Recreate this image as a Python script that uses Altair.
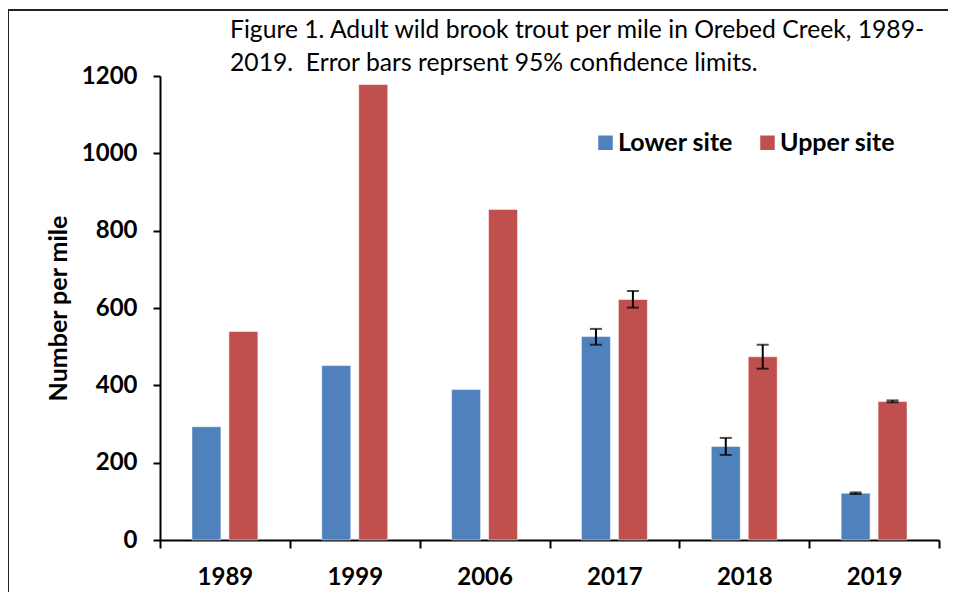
import altair as alt
import pandas as pd

years = ["1989", "1999", "2006", "2017", "2018", "2019"]
lower_vals = [293, 451, 389, 526, 242, 121]
upper_vals = [539, 1178, 855, 622, 474, 358]

err_years = ["2017", "2018", "2019"]
lower_lo = [505, 220, 119]
lower_hi = [546, 264, 123]
upper_lo = [601, 443, 356]
upper_hi = [644, 505, 361]

sites = ["Lower site", "Upper site"]
colors = ["#4F81BD", "#C0504D"]

title_lines = [
    "Figure 1. Adult wild brook trout per mile in Orebed Creek, 1989-",
    "2019.\u00a0 Error bars reprsent 95% confidence limits.",
]

rows = []
for y, lv, uv in zip(years, lower_vals, upper_vals):
    rows.append({"year": y, "site": sites[0], "value": lv})
    rows.append({"year": y, "site": sites[1], "value": uv})
bars_df = pd.DataFrame(rows)

erows = []
for y, a, b, c, d in zip(err_years, lower_lo, lower_hi, upper_lo, upper_hi):
    erows.append({"year": y, "site": sites[0], "lo": a, "hi": b})
    erows.append({"year": y, "site": sites[1], "lo": c, "hi": d})
err_df = pd.DataFrame(erows)

FONT = "Lato"

x_enc = alt.X(
    "year:N",
    sort=years,
    title=None,
    scale=alt.Scale(paddingInner=0, paddingOuter=0),
    axis=alt.Axis(
        tickBand="extent",
        labelAngle=0,
        labelFontSize=24,
        labelFontWeight="bold",
        labelColor="black",
        labelPadding=17,
        tickSize=8,
        tickWidth=2,
        tickColor="black",
        domainColor="black",
        domainWidth=2,
        grid=False,
    ),
)
xoff = alt.XOffset(
    "site:N",
    sort=sites,
    scale=alt.Scale(domain=sites, paddingInner=0.216, paddingOuter=0.865),
)

bars = (
    alt.Chart(bars_df)
    .mark_bar(stroke="white", strokeWidth=1, strokeOpacity=0.5)
    .encode(
        x=x_enc,
        xOffset=xoff,
        y=alt.Y(
            "value:Q",
            title="Number per mile",
            scale=alt.Scale(domain=[0, 1200], nice=False),
            axis=alt.Axis(
                values=[0, 200, 400, 600, 800, 1000, 1200],
                format="d",
                labelFontSize=24,
                labelFontWeight="bold",
                labelColor="black",
                labelPadding=16,
                tickSize=7,
                tickWidth=2,
                tickColor="black",
                domainColor="black",
                domainWidth=2,
                grid=False,
                titleFontSize=25,
                titleFontWeight="bold",
                titleColor="black",
                titlePadding=10,
            ),
        ),
        color=alt.Color(
            "site:N",
            sort=sites,
            scale=alt.Scale(domain=sites, range=colors),
            legend=alt.Legend(
                title=None,
                orient="none",
                legendX=433,
                legendY=54,
                direction="horizontal",
                symbolType="square",
                symbolSize=210,
                symbolStrokeWidth=0,
                labelFontSize=25,
                labelFontWeight="bold",
                labelColor="black",
                labelOffset=0,
                columnPadding=22,
            ),
        ),
    )
)

err_rule = (
    alt.Chart(err_df)
    .mark_rule(color="black", strokeWidth=2)
    .encode(x=alt.X("year:N", sort=years), xOffset=xoff, y="lo:Q", y2="hi:Q")
)
err_lo = (
    alt.Chart(err_df)
    .mark_tick(color="black", thickness=2, size=12, orient="horizontal")
    .encode(x=alt.X("year:N", sort=years), xOffset=xoff, y="lo:Q")
)
err_hi = (
    alt.Chart(err_df)
    .mark_tick(color="black", thickness=2, size=12, orient="horizontal")
    .encode(x=alt.X("year:N", sort=years), xOffset=xoff, y="hi:Q")
)

frame_top = alt.Chart(bars_df).mark_rule(color="#222", strokeWidth=2).encode(
    x=alt.value(-152), x2=alt.value(840), y=alt.value(-66)
)
frame_left = alt.Chart(bars_df).mark_rule(color="#222", strokeWidth=2).encode(
    x=alt.value(-152), y=alt.value(-66), y2=alt.value(560)
)

chart = (
    alt.layer(frame_top, frame_left, bars, err_rule, err_lo, err_hi)
    .properties(
        width=779,
        height=464,
        padding={"left": 152, "top": 68, "right": 9, "bottom": 52},
        autosize=alt.AutoSizeParams(type="none"),
        title=alt.TitleParams(
            text=title_lines,
            anchor="start",
            dx=223,
            fontSize=24.7,
            fontWeight="normal",
            font=FONT,
            color="black",
            lineHeight=33,
            offset=-67,
        ),
    )
    .configure(font=FONT)
    .configure_view(stroke=None)
)

chart.save("out.html", embed_options={"renderer": "svg", "actions": False})
